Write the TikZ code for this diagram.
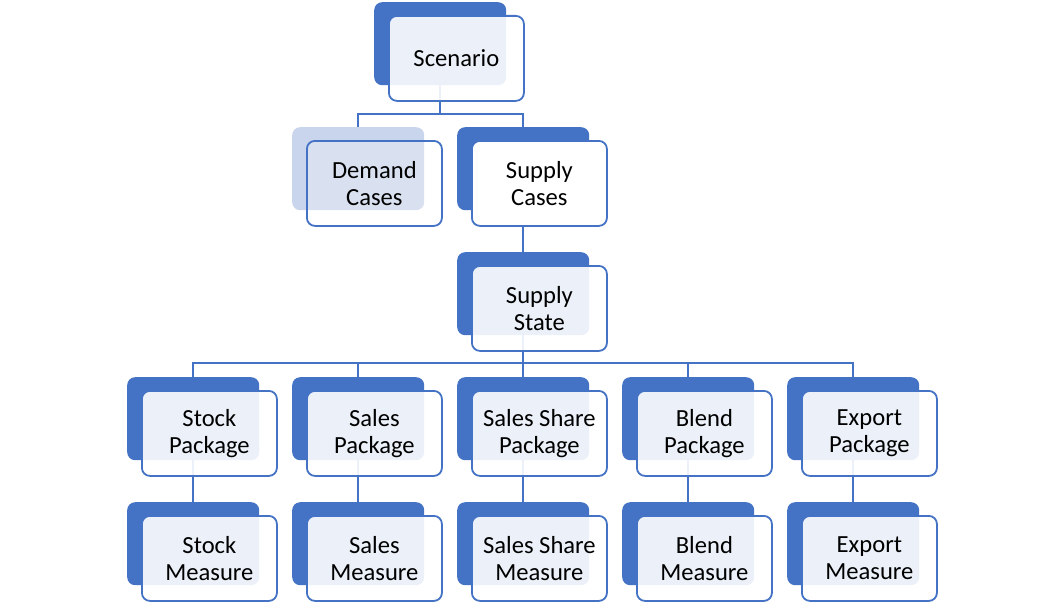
\documentclass[tikz,border=0pt]{standalone}
\usepackage{fontspec}
\setmainfont{Carlito}
\pgfdeclarelayer{bg}
\pgfsetlayers{bg,main}
\definecolor{accent}{RGB}{68,114,196}
\definecolor{paleback}{RGB}{201,213,236}
\tikzset{
  backbox/.style={shape=rectangle, draw=none, fill=accent, rounded corners=8pt,
    minimum width=132pt, minimum height=83pt, inner sep=0pt, anchor=north west},
  frontbox/.style={shape=rectangle, draw=accent, line width=1.8pt, fill=white, fill opacity=0.9,
    draw opacity=1, text opacity=1, rounded corners=8pt, minimum width=135pt, minimum height=85pt,
    inner sep=0pt, anchor=north west, align=center, font=\fontsize{24.6}{26.5}\selectfont},
  conn/.style={draw=accent, line width=1.5pt}
}
\newcommand\duo[6]{%
  \node[backbox,#2] (#1-b) at (#4,#5) {};
  \node[frontbox,#3] (#1) at (#4+14,#5+13) {#6};
}
\begin{document}
\begin{tikzpicture}[x=1pt,y=-1pt]
\useasboundingbox (0,0) rectangle (1062,602);
\duo{scen}{}{}{374}{2}{Scenario}
\duo{dem}{fill=paleback}{fill opacity=0.3}{292}{127}{Demand\\Cases}
\duo{sup}{}{fill opacity=1}{457}{127}{Supply\\Cases}
\duo{state}{}{}{457}{252}{Supply\\State}
\duo{stp}{}{}{127}{377}{Stock\\Package}
\duo{sap}{}{}{292}{377}{Sales\\Package}
\duo{ssp}{}{}{457}{377}{Sales Share\\Package}
\duo{blp}{}{}{622}{377}{Blend\\Package}
\duo{exp}{}{}{787}{377}{Export\\Package}
\duo{stm}{}{}{127}{502}{Stock\\Measure}
\duo{sam}{}{}{292}{502}{Sales\\Measure}
\duo{ssm}{}{}{457}{502}{Sales Share\\Measure}
\duo{blm}{}{}{622}{502}{Blend\\Measure}
\duo{exm}{}{}{787}{502}{Export\\Measure}
\coordinate (r1) at (0,114);
\coordinate (r2) at (0,363);
\begin{pgfonlayer}{bg}
  \coordinate (j1) at (scen-b.south |- r1);
  \coordinate (j2) at (state-b.south |- r2);
  \draw[conn] (scen-b.south) -- (j1);
  \draw[conn] (dem-b.north) |- (j1) -| (sup-b.north);
  \draw[conn] (sup-b.south) -- (state-b.north);
  \draw[conn] (state-b.south) -- (j2);
  \draw[conn] (stp-b.north) |- (j2) -| (exp-b.north);
  \draw[conn] (sap-b.north) -- (sap-b.north |- r2);
  \draw[conn] (ssp-b.north) -- (j2);
  \draw[conn] (blp-b.north) -- (blp-b.north |- r2);
  \draw[conn] (stp-b.south) -- (stm-b.north);
  \draw[conn] (sap-b.south) -- (sam-b.north);
  \draw[conn] (ssp-b.south) -- (ssm-b.north);
  \draw[conn] (blp-b.south) -- (blm-b.north);
  \draw[conn] (exp-b.south) -- (exm-b.north);
\end{pgfonlayer}
\end{tikzpicture}
\end{document}
